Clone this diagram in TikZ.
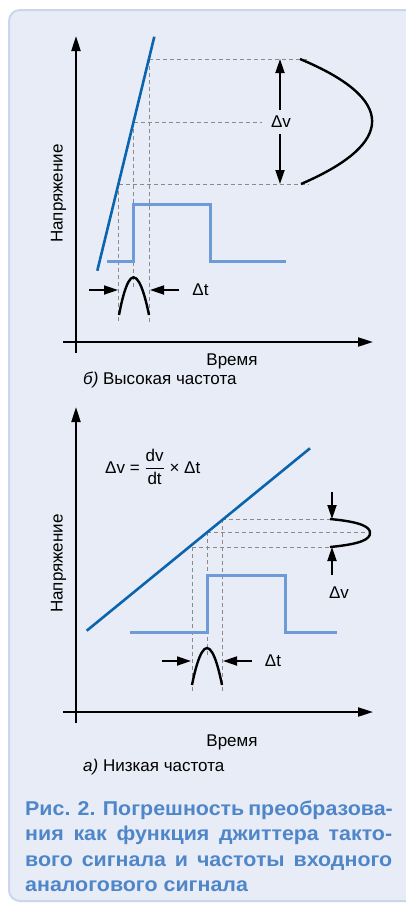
\documentclass[tikz,border=0pt]{standalone}
\usepackage{fontspec}
\setmainfont{Liberation Sans}
\newfontfamily\capfont{Liberation Sans}[FakeStretch=1.07]
\usetikzlibrary{arrows.meta}
\definecolor{panelfill}{HTML}{E8ECF7}
\definecolor{panelline}{HTML}{CBD6EE}
\definecolor{rampblue}{HTML}{0A64AE}
\definecolor{clockblue}{HTML}{6E9BD7}
\definecolor{dashgray}{HTML}{8A8A8A}
\definecolor{capblue}{HTML}{4E86C8}
\begin{document}
\begin{tikzpicture}[x=1pt,y=-1pt,
  axis/.style={line width=2pt,-{Triangle[length=15pt,width=9pt]}},
  axisline/.style={line width=2pt},
  ramp/.style={rampblue,line width=2.6pt},
  clock/.style={clockblue,line width=3pt},
  guide/.style={dashgray,line width=0.9pt,dash pattern=on 4pt off 3pt},
  bump/.style={black,line width=2.4pt},
  marker/.style={line width=1.8pt,-{Triangle[length=14pt,width=9pt]}},
  lbl/.style={font=\fontsize{17}{20}\selectfont,inner sep=0pt},
  capline/.style={anchor=base west,inner sep=0pt,text=capblue,font=\capfont\bfseries\fontsize{20}{24}\selectfont}]
\useasboundingbox (0,0) rectangle (406,903);
\fill[white] (0,0) rectangle (406,903);
\draw[fill=panelfill,draw=panelline,line width=2pt,rounded corners=11pt] (9,10) rectangle (430,901);

% ===== top chart (b) =====
\coordinate (by0) at (76,353); \coordinate (by1) at (76,36);
\coordinate (bx0) at (63,342); \coordinate (bx1) at (373,342);
\draw[axisline] (by0) -- (76,50);
\draw[axis] (76,60) -- (by1);
\draw[axisline] (bx0) -- (360,342);
\draw[axis] (350,342) -- (bx1);

% guides
\draw[guide] (149,59) -- (309,59);
\draw[guide] (133.5,122) -- (262,122);
\draw[guide] (118.5,184) -- (309,184);
\draw[guide] (149,59) -- (149,322);
\draw[guide] (133.5,122) -- (133.5,290);
\draw[guide] (118.5,184) -- (118.5,322);

% ramp
\coordinate (br0) at (97.3,270.7); \coordinate (br1) at (154.3,36.7);
\draw[ramp] (br0) -- (br1);

% clock
\draw[clock] (107,261) -- (133.5,261) -- (133.5,204) -- (210,204) -- (210,261) -- (286,261);

% jitter bump
\coordinate (bb0) at (119,315); \coordinate (bbp) at (133.5,277.3); \coordinate (bb1) at (149,315);
\draw[bump] (bb0) parabola bend (bbp) (bb1);

% delta t arrows
\coordinate (bta0) at (89,290); \coordinate (bta1) at (118,290);
\coordinate (btb0) at (179,290); \coordinate (btb1) at (150,290);
\draw[marker] (bta0) -- (bta1);
\draw[marker] (btb0) -- (btb1);
\node[lbl] (bdt) at (200.5,290) {Δt};

% delta v
\node[lbl] (bdv) at (281,122) {Δv};
\coordinate (bva0) at (280,110); \coordinate (bva1) at (280,59);
\coordinate (bvb0) at (280,134); \coordinate (bvb1) at (280,184);
\draw[marker] (bva0) -- (bva1);
\draw[marker] (bvb0) -- (bvb1);
\coordinate (bc0) at (300,59); \coordinate (bc1) at (301,184);
\draw[bump] (bc0) .. controls (396,99) and (396,143) .. (bc1);

\node[lbl,rotate=90] (bylab) at (58.5,193.5) {Напряжение};
\node[lbl] (bxlab) at (232,361) {Время};
\node[lbl,anchor=west] (btitle) at (83,380) {\itshape б)\upshape\ Высокая частота};

% ===== bottom chart (a) =====
\coordinate (ay0) at (76,723); \coordinate (ay1) at (76,407);
\coordinate (ax0) at (63,712); \coordinate (ax1) at (373,712);
\draw[axisline] (ay0) -- (76,420);
\draw[axis] (76,430) -- (ay1);
\draw[axisline] (ax0) -- (360,712);
\draw[axis] (350,712) -- (ax1);

\node[lbl,anchor=west] (formula) at (105,467) {Δv = \(\displaystyle\frac{\hbox{dv}}{\hbox{dt}}\) × Δt};

% guides
\draw[guide] (222,519) -- (330,519);
\draw[guide] (207,532) -- (366,532);
\draw[guide] (192,547) -- (330,547);
\draw[guide] (192,547) -- (192,692);
\draw[guide] (207,532) -- (207,658);
\draw[guide] (222,519) -- (222,692);

% ramp
\coordinate (ar0) at (86.7,630.7); \coordinate (ar1) at (310,448.3);
\draw[ramp] (ar0) -- (ar1);

% clock
\draw[clock] (130,632) -- (207,632) -- (207,575) -- (285,575) -- (285,632) -- (337,632);

% bump
\coordinate (ab0) at (192,685); \coordinate (abp) at (207,648); \coordinate (ab1) at (222,685);
\draw[bump] (ab0) parabola bend (abp) (ab1);

% delta t
\coordinate (ata0) at (162,661); \coordinate (ata1) at (191,661);
\coordinate (atb0) at (252,661); \coordinate (atb1) at (223,661);
\draw[marker] (ata0) -- (ata1);
\draw[marker] (atb0) -- (atb1);
\node[lbl] (adt) at (273,661) {Δt};

% delta v
\coordinate (ava0) at (332,492); \coordinate (ava1) at (332,519);
\coordinate (avb0) at (332,575); \coordinate (avb1) at (332,547);
\draw[marker] (ava0) -- (ava1);
\draw[marker] (avb0) -- (avb1);
\node[lbl] (adv) at (339,593) {Δv};
\coordinate (ac0) at (330,519); \coordinate (ac1) at (330,547);
\draw[bump] (ac0) .. controls (362,522) and (370,527) .. (370,533) .. controls (370,539) and (362,544) .. (ac1);

\node[lbl,rotate=90] (aylab) at (58.5,563.5) {Напряжение};
\node[lbl] (axlab) at (232,742) {Время};
\node[lbl,anchor=west] (atitle) at (83,767) {\itshape а)\upshape\ Низкая частота};

% ===== caption =====
\node[capline] (cap1) at (25,815) {\makebox[367pt][s]{Рис. 2. Погрешность преобразова-}};
\node[capline] (cap2) at (25,840.5) {\makebox[367pt][s]{ния как функция джиттера такто-}};
\node[capline] (cap3) at (25,866) {\makebox[367pt][s]{вого сигнала и частоты входного}};
\node[capline] (cap4) at (25,891.5) {аналогового сигнала};
\end{tikzpicture}
\end{document}
